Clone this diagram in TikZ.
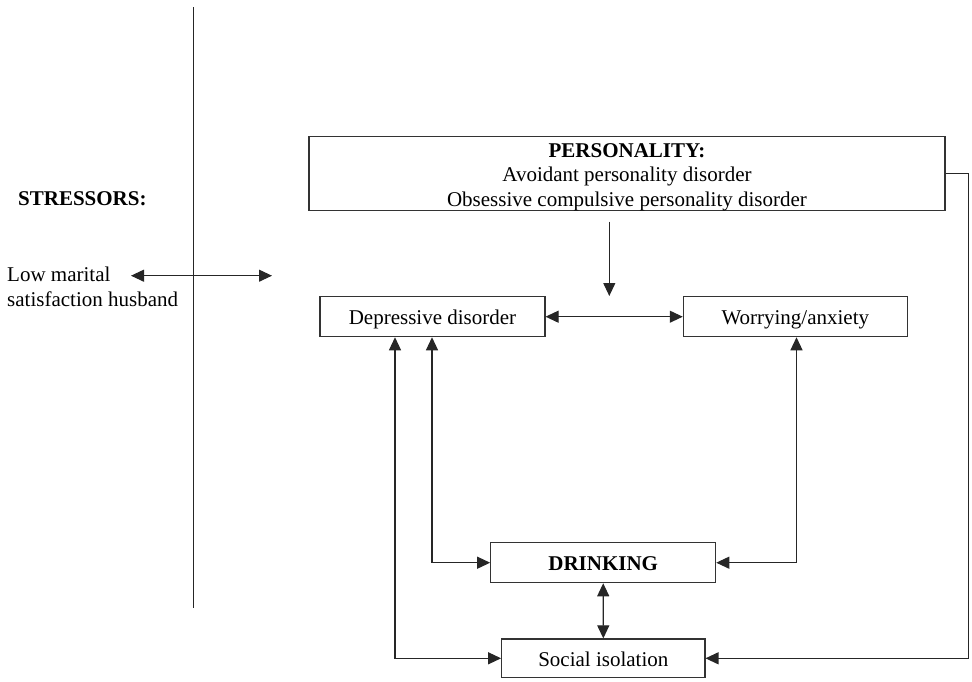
\documentclass[tikz,border=0pt]{standalone}
\usepackage{fontspec}
\setmainfont{Liberation Serif}
\usetikzlibrary{arrows.meta}

\tikzset{
  txt/.style={inner sep=0pt, font=\fontsize{21}{24.5}\selectfont},
  box/.style={txt, draw=black!80, line width=1.1pt, rectangle, align=center},
  onebox/.style={box, text height=16.5pt, text depth=0pt},
  link/.style={draw=black!85, line width=1.1pt},
  tip/.style={-{Triangle[length=13pt,width=12pt]}},
  tips/.style={{Triangle[length=13pt,width=12pt]}-{Triangle[length=13pt,width=12pt]}}
}

\begin{document}
\begin{tikzpicture}[x=1pt, y=-1pt]
  \useasboundingbox (0,0) rectangle (972,681);

  % dividing line between stressors and the model
  \coordinate (divtop) at (193.7,7);
  \coordinate (divbot) at (193.7,607.7);
  \draw[link] (divtop) -- (divbot);

  % stressors
  \node[txt, anchor=base west, font=\fontsize{21}{24.5}\selectfont\bfseries]
    (stress) at (18,205) {STRESSORS:};
  \node[txt, anchor=base west, align=left] (low) at (7,306.2)
    {Low marital\\satisfaction husband};
  \coordinate (stl) at (131,275.7);
  \coordinate (str) at (272,275.7);
  \draw[link, tips] (stl) -- (str);

  % boxes
  \node[box, minimum width=636pt, minimum height=74.7pt] (pers) at (627,173.4) {};
  \node[txt, align=center, anchor=base] (perstext) at (627,206)
    {\textbf{PERSONALITY:}\\Avoidant personality disorder\\Obsessive compulsive personality disorder};
  \node[onebox, minimum width=225pt, minimum height=40pt] (dep) at (432.5,316.7)
    {Depressive disorder};
  \node[onebox, minimum width=224pt, minimum height=40pt] (wor) at (795.3,316.7)
    {Worrying/anxiety};
  \node[onebox, minimum width=225pt, minimum height=40pt] (drink) at (603.2,562.7)
    {\textbf{DRINKING}};
  \node[onebox, minimum width=203.3pt, minimum height=38.7pt] (soc) at (603.3,658.3)
    {Social isolation};

  % personality acts on the two disorders
  \coordinate (pa) at (609.3,221.7);
  \coordinate (pb) at (609.3,296);
  \draw[link, tip] (pa) -- (pb);

  % depression and worry
  \draw[link, tips] (dep.east) -- (wor.west);

  % links to drinking and social isolation
  \draw[link, tips] (dep.south -| 395,0) |- (soc.west);
  \draw[link, tips] (dep.south -| 432,0) |- (drink.west);
  \draw[link, tips] (wor.south -| 796.5,0) |- (drink.east);
  \draw[link, tips] (drink.south) -- (soc.north);

  % personality to social isolation
  \coordinate (pr) at (968.3,173.4);
  \draw[link, tip] (pers.east) -- (pr) |- (soc.east);
\end{tikzpicture}
\end{document}
